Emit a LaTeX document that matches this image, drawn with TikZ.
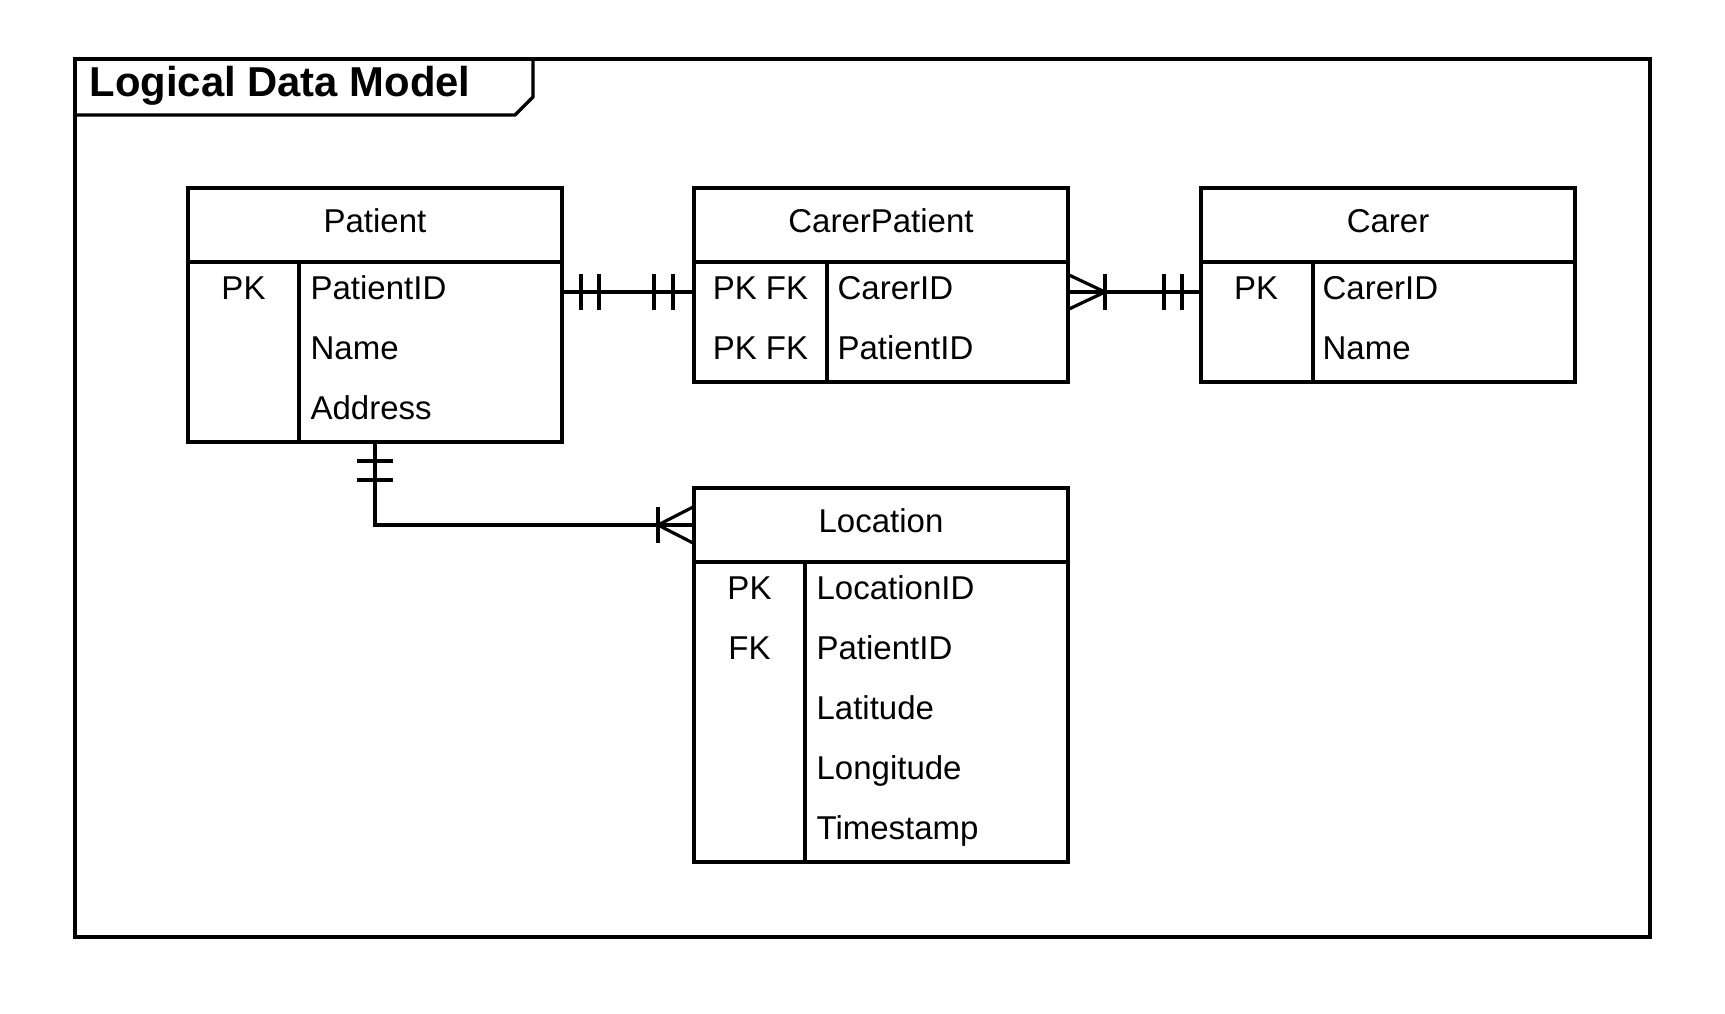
\documentclass[tikz,border=0pt]{standalone}
\usepackage{fontspec}
\setmainfont{Liberation Sans}
\usetikzlibrary{positioning}

\tikzset{
  entity/.style={draw, rectangle, outer sep=0pt, inner sep=0pt, minimum width=187pt, minimum height=37pt, text height=10pt, text depth=3pt},
  attrs/.style={draw, rectangle, outer sep=0pt, inner sep=0pt, minimum width=187pt},
  keycol/.style={draw, rectangle, outer sep=0pt, inner sep=0pt, anchor=north west},
  key/.style={anchor=base, inner sep=0pt},
  field/.style={anchor=base west, inner sep=0pt},
}

\begin{document}
\begin{tikzpicture}[x=0.5pt, y=-0.5pt, line width=1.6pt, font=\fontsize{16.5}{20}\selectfont]
   \useasboundingbox (0,0) rectangle (1725,1013);
   % frame and title tab
   \node[draw, outer sep=0pt, inner sep=0pt, minimum width=787.5pt, minimum height=439pt, anchor=north west] (model) at (75,59) {};
   \draw (model.north west |- 0,115) -- (515,115) -- (533,97) -- (533,59);
   \node[anchor=base west, inner sep=0pt, font=\fontsize{20.9}{24}\selectfont\bfseries] (title) at (88,96) {Logical Data Model};

   % Patient
   \node[entity] (patient) at (375,225) {Patient};
   \node[attrs, minimum height=90pt, below=0pt of patient] (patientattrs) {};
   \node[keycol, minimum width=55.5pt, minimum height=90pt] (patientkeys) at (patientattrs.north west) {};
   \node[key] (patientpk) at (243.5,299) {PK};
   \node[field] (patientid) at (309,299) {PatientID};
   \node[field] (patientname) at (309,359) {Name};
   \node[field] (patientaddress) at (309,419) {Address};

   % CarerPatient
   \node[entity] (carerpatient) at (881,225) {CarerPatient};
   \node[attrs, minimum height=60pt, below=0pt of carerpatient] (carerpatientattrs) {};
   \node[keycol, minimum width=66.5pt, minimum height=60pt] (carerpatientkeys) at (carerpatientattrs.north west) {};
   \node[key] (cpkeya) at (760.5,299) {PK FK};
   \node[key] (cpkeyb) at (760.5,359) {PK FK};
   \node[field] (cpcarerid) at (836,299) {CarerID};
   \node[field] (cppatientid) at (836,359) {PatientID};

   % Carer
   \node[entity] (carer) at (1388,225) {Carer};
   \node[attrs, minimum height=60pt, below=0pt of carer] (carerattrs) {};
   \node[keycol, minimum width=56pt, minimum height=60pt] (carerkeys) at (carerattrs.north west) {};
   \node[key] (carerpk) at (1256,299) {PK};
   \node[field] (carerid) at (1321,299) {CarerID};
   \node[field] (carername) at (1321,359) {Name};

   % Location
   \node[entity] (location) at (881,525) {Location};
   \node[attrs, minimum height=150pt, below=0pt of location] (locationattrs) {};
   \node[keycol, minimum width=55.5pt, minimum height=150pt] (locationkeys) at (locationattrs.north west) {};
   \node[key] (locationpk) at (749.5,599) {PK};
   \node[key] (locationfk) at (749.5,659) {FK};
   \node[field] (locationid) at (815,599) {LocationID};
   \node[field] (locpatientid) at (815,659) {PatientID};
   \node[field] (latitude) at (815,719) {Latitude};
   \node[field] (longitude) at (815,779) {Longitude};
   \node[field] (timestamp) at (815,839) {Timestamp};

   % relationships
   \coordinate (pcpa) at ([yshift=-15pt]patientattrs.north east);
   \coordinate (pcpb) at ([yshift=-15pt]carerpatientattrs.north west);
   \coordinate (cpca) at ([yshift=-15pt]carerpatientattrs.north east);
   \coordinate (cpcb) at ([yshift=-15pt]carerattrs.north west);

   \draw (pcpa) -- (pcpb);
   \draw (pcpa) ++(9.5pt,-9pt) -- ++(0,18pt)  (pcpa) ++(18.5pt,-9pt) -- ++(0,18pt);
   \draw (pcpb) ++(-10.5pt,-9pt) -- ++(0,18pt)  (pcpb) ++(-20pt,-9pt) -- ++(0,18pt);

   \draw (cpca) -- (cpcb);
   \draw ([yshift=8.75pt]cpca) -- ++(18.5pt,-8.75pt) -- ++(-18.5pt,-8.75pt);
   \draw (cpca) ++(18.5pt,-9pt) -- ++(0,18pt);
   \draw (cpcb) ++(-9.5pt,-9pt) -- ++(0,18pt)  (cpcb) ++(-18.5pt,-9pt) -- ++(0,18pt);

   \draw (patientattrs.south) |- (location.west);
   \draw (patientattrs.south) ++(-9pt,-9.5pt) -- ++(18pt,0)  (patientattrs.south) ++(-9pt,-19pt) -- ++(18pt,0);
   \draw ([yshift=9.25pt]location.west) -- ++(-18pt,-9.25pt) -- ++(18pt,-9.25pt);
   \draw (location.west) ++(-18pt,-9pt) -- ++(0,18pt);
\end{tikzpicture}
\end{document}
